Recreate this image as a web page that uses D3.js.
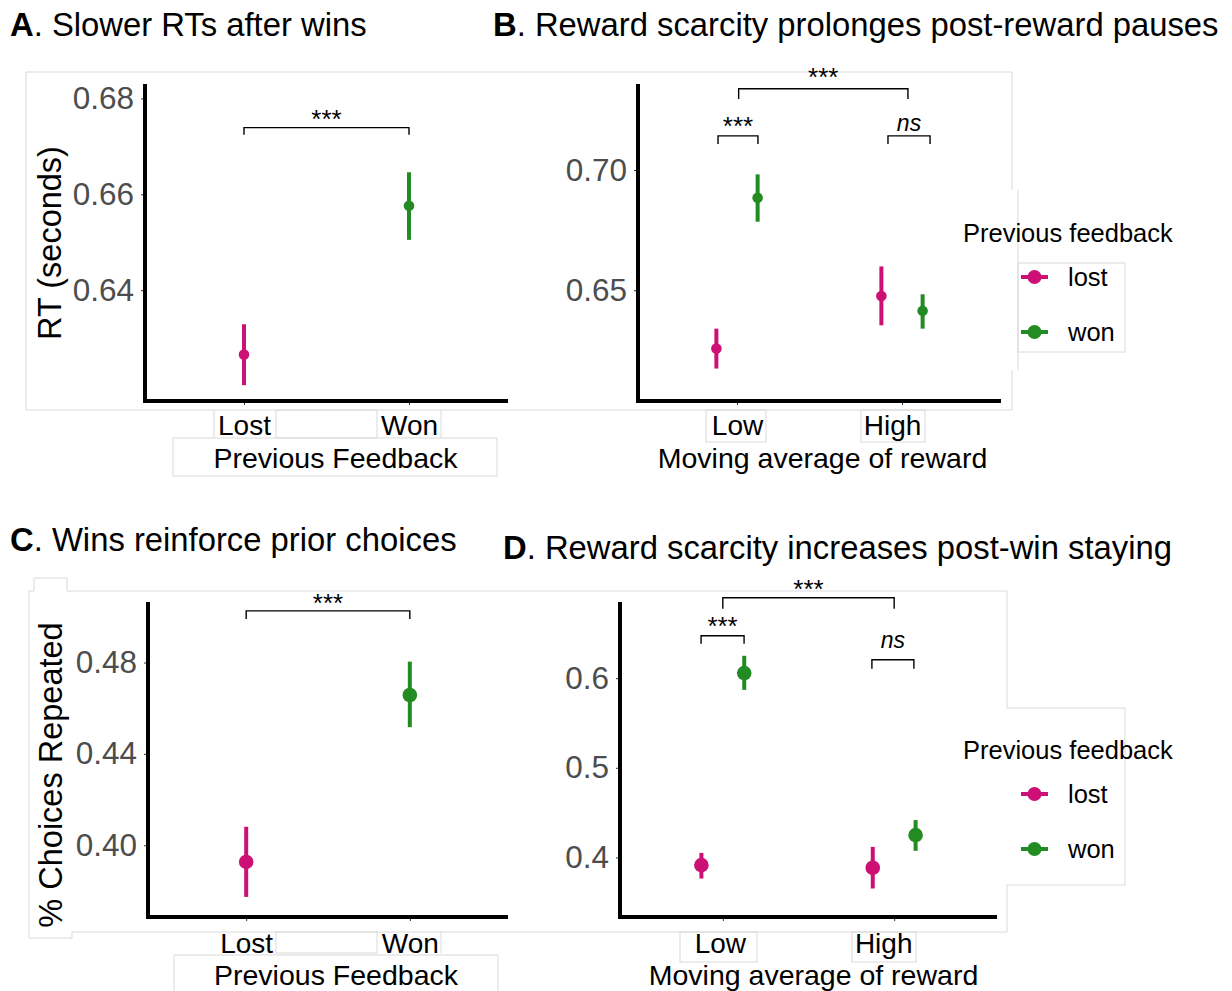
<!DOCTYPE html>
<html>
<head>
<meta charset="utf-8">
<script src="https://d3js.org/d3.v7.min.js"></script>
<style>
  body { margin: 0; background: #fff; }
  svg { font-family: "Liberation Sans", Arial, Helvetica, sans-serif; }
</style>
</head>
<body>
<svg id="vis" width="1232" height="991"></svg>
<script>
// ---- data ----
var feedbackLevels = ["lost", "won"];
var feedbackCats = ["Lost", "Won"];
var rewardLevels = ["Low", "High"];

// A. RT by previous feedback (lost, won)
var rtMean = [0.6266, 0.6576];
var rtLow = [0.6202, 0.6505];
var rtHigh = [0.6329, 0.6646];
var rtTicks = [0.64, 0.66, 0.68];

// B. RT by reward average (Low, High) x feedback
var rtLostMean = [0.6257, 0.6476];
var rtLostLow = [0.6174, 0.6354];
var rtLostHigh = [0.6340, 0.6599];
var rtWonMean = [0.6885, 0.6414];
var rtWonLow = [0.6785, 0.6340];
var rtWonHigh = [0.6982, 0.6483];
var rtRewardTicks = [0.65, 0.70];

// C. choices repeated by previous feedback (lost, won)
var stayMean = [0.3927, 0.4658];
var stayLow = [0.3774, 0.4517];
var stayHigh = [0.4081, 0.4804];
var stayTicks = [0.40, 0.44, 0.48];

// D. choices repeated by reward average (Low, High) x feedback
var stayLostMean = [0.3914, 0.3885];
var stayLostLow = [0.3765, 0.3654];
var stayLostHigh = [0.4051, 0.4118];
var stayWonMean = [0.6056, 0.4249];
var stayWonLow = [0.5869, 0.4074];
var stayWonHigh = [0.6249, 0.4417];
var stayRewardTicks = [0.4, 0.5, 0.6];

// significance brackets (category + offset in steps, heights in data units)
var bracketsA = [
  { a: "Lost", ao: 0, b: "Won", bo: 0, y: 0.6739, drop: 0.6724, label: "***", labelY: 0.6770 }
];
var bracketsB = [
  { a: "Low", ao: 0.01, b: "High", bo: 0.036, y: 0.7338, drop: 0.7296, label: "***", labelY: 0.7413 },
  { a: "Low", ao: -0.115, b: "Low", bo: 0.127, y: 0.7142, drop: 0.7108, label: "***", labelY: 0.7208 },
  { a: "High", ao: -0.085, b: "High", bo: 0.17, y: 0.7142, drop: 0.7108, label: "ns", labelY: 0.7188 }
];
var bracketsC = [
  { a: "Lost", ao: 0, b: "Won", bo: 0, y: 0.5026, drop: 0.4991, label: "***", labelY: 0.5088 }
];
var bracketsD = [
  { a: "Low", ao: 0, b: "High", bo: 0, y: 0.6897, drop: 0.6774, label: "***", labelY: 0.7065 },
  { a: "Low", ao: -0.127, b: "Low", bo: 0.124, y: 0.6473, drop: 0.6384, label: "***", labelY: 0.6653 },
  { a: "High", ao: -0.13, b: "High", bo: 0.115, y: 0.6205, drop: 0.6104, label: "ns", labelY: 0.6408 }
];

var colors = { lost: "#CD1076", won: "#228B22" };

// one point per feedback level, x = that feedback category
function simplePoints(mean, low, high) {
  return feedbackLevels.map(function(k, i) {
    return { key: k, cat: feedbackCats[i], dodge: 0, mean: mean[i], low: low[i], high: high[i] };
  });
}
// dodged points, x = reward level
function groupedPoints(lost, won) {
  var pts = [];
  rewardLevels.forEach(function(c, i) {
    pts.push({ key: "lost", cat: c, dodge: -0.125, mean: lost[0][i], low: lost[1][i], high: lost[2][i] });
    pts.push({ key: "won", cat: c, dodge: 0.125, mean: won[0][i], low: won[1][i], high: won[2][i] });
  });
  return pts;
}

var svg = d3.select("#vis");

// faint leftover panel borders from the composed figure
var faint = svg.append("g").attr("fill", "none").attr("stroke", "#dadada").attr("stroke-width", 1);
faint.append("path").attr("d", "M26,72H1012V190M1018,190V370M1012,370V410H26V72");
faint.append("rect").attr("x", 1018).attr("y", 263).attr("width", 107).attr("height", 89);
faint.append("rect").attr("x", 276).attr("y", 410).attr("width", 101).attr("height", 28);
faint.append("path").attr("d", "M214,410V438M441,410V438");
faint.append("rect").attr("x", 173).attr("y", 438).attr("width", 324).attr("height", 38);
faint.append("rect").attr("x", 706).attr("y", 410).attr("width", 60).attr("height", 32);
faint.append("rect").attr("x", 861).attr("y", 410).attr("width", 64).attr("height", 32);
faint.append("path").attr("d", "M29,938V591H34V578H67V591H1007V708H1125V885H1007V932H72V938Z");
faint.append("rect").attr("x", 276).attr("y", 932).attr("width", 101).attr("height", 21);
faint.append("path").attr("d", "M441,932V953");
faint.append("rect").attr("x", 174).attr("y", 955).attr("width", 324).attr("height", 40);
faint.append("rect").attr("x", 680).attr("y", 932).attr("width", 77).attr("height", 30);
faint.append("rect").attr("x", 852).attr("y", 932).attr("width", 64).attr("height", 30);

// titles
function title(x, y, letter, rest) {
  var t = svg.append("text").attr("x", x).attr("y", y).attr("font-size", 32.8).attr("fill", "#000");
  t.append("tspan").attr("font-weight", "bold").text(letter);
  t.append("tspan").text(". " + rest);
}
title(10, 36, "A", "Slower RTs after wins");
title(493, 36, "B", "Reward scarcity prolonges post-reward pauses");
title(10, 551, "C", "Wins reinforce prior choices");
title(503, 559, "D", "Reward scarcity increases post-win staying");

function drawPanel(p) {
  var g = svg.append("g");
  var x = d3.scalePoint().domain(p.cats).range([p.x0, p.x1]).padding(0.6);
  var y = d3.scaleLinear().domain(p.domain).range([p.yBot, p.yTop]);
  var step = x.step();

  // y axis ticks
  var ya = g.append("g").attr("transform", "translate(" + p.x0 + ",0)")
    .call(d3.axisLeft(y).tickValues(p.ticks).tickSize(4).tickPadding(7).tickFormat(d3.format(p.fmt)));
  ya.select(".domain").remove();
  ya.selectAll("line").attr("stroke", "#333");
  ya.selectAll("text").attr("font-size", 31.5).attr("fill", "#4d4d4d").attr("font-family", null);

  // x axis ticks
  var xa = g.append("g").attr("transform", "translate(0," + p.yBot + ")")
    .call(d3.axisBottom(x).tickSize(4).tickPadding(p.xPad));
  xa.select(".domain").remove();
  xa.selectAll("line").attr("stroke", "#333");
  xa.selectAll("text").attr("font-size", 28).attr("fill", "#000").attr("font-family", null)
    .attr("dx", function(d) { return d === "High" ? p.highShift : (d === "Low" ? p.lowShift : 0); });

  // axis lines
  g.append("line").attr("x1", p.x0).attr("x2", p.x0).attr("y1", p.yTop).attr("y2", p.yBot + 2)
    .attr("stroke", "#000").attr("stroke-width", 4);
  g.append("line").attr("x1", p.x0 - 2).attr("x2", p.x1).attr("y1", p.yBot).attr("y2", p.yBot)
    .attr("stroke", "#000").attr("stroke-width", 4);

  // axis titles
  g.append("text").attr("x", (p.x0 + p.x1) / 2 + p.titleShift).attr("y", p.xTitleY)
    .attr("text-anchor", "middle").attr("font-size", 28.5).text(p.xTitle);
  if (p.yTitle) {
    g.append("text").attr("transform", "translate(" + p.yTitleX + "," + p.yTitleCY + ") rotate(-90)")
      .attr("text-anchor", "middle").attr("font-size", 32.5).text(p.yTitle);
  }

  // error bars + points
  p.points.forEach(function(d) {
    var cx = x(d.cat) + d.dodge * step;
    g.append("line").attr("x1", cx).attr("x2", cx)
      .attr("y1", y(d.low)).attr("y2", y(d.high))
      .attr("stroke", colors[d.key]).attr("stroke-width", 4);
    g.append("circle").attr("cx", cx).attr("cy", y(d.mean)).attr("r", p.r)
      .attr("fill", colors[d.key]);
  });

  // brackets
  p.brackets.forEach(function(b) {
    var xa0 = x(b.a) + b.ao * step, xb0 = x(b.b) + b.bo * step;
    g.append("path")
      .attr("d", "M" + xa0 + "," + y(b.drop) + "V" + y(b.y) + "H" + xb0 + "V" + y(b.drop))
      .attr("fill", "none").attr("stroke", "#000").attr("stroke-width", 1.4);
    var star = b.label === "***";
    var fs = star ? 26 : 23;
    g.append("text").attr("x", (xa0 + xb0) / 2)
      .attr("y", y(b.labelY) + (star ? 0.58 * fs : 0.27 * fs))
      .attr("text-anchor", "middle").attr("font-size", fs)
      .attr("font-style", star ? "normal" : "italic").text(b.label);
  });

  // legend
  if (p.legend) {
    var lg = g.append("g");
    lg.append("text").attr("x", 963).attr("y", p.legend.titleY + 9).attr("font-size", 25.5).text("Previous feedback");
    feedbackLevels.forEach(function(k, i) {
      var ky = p.legend.keyY[i];
      lg.append("line").attr("x1", 1021).attr("x2", 1048).attr("y1", ky).attr("y2", ky)
        .attr("stroke", colors[k]).attr("stroke-width", 4);
      lg.append("circle").attr("cx", 1034.5).attr("cy", ky).attr("r", 7).attr("fill", colors[k]);
      lg.append("text").attr("x", 1068).attr("y", ky + 9).attr("font-size", 25.5).text(k);
    });
  }
}

drawPanel({
  cats: feedbackCats, x0: 145, x1: 508, yTop: 84, yBot: 401, domain: [0.6169, 0.683],
  ticks: rtTicks, fmt: ".2f", r: 5.3, xPad: 10, highShift: 0, lowShift: 0,
  xTitle: "Previous Feedback", xTitleY: 468, titleShift: 9,
  yTitle: "RT (seconds)", yTitleX: 61, yTitleCY: 243,
  points: simplePoints(rtMean, rtLow, rtHigh),
  brackets: bracketsA
});

drawPanel({
  cats: rewardLevels, x0: 638, x1: 1001, yTop: 84, yBot: 401, domain: [0.6039, 0.7358],
  ticks: rtRewardTicks, fmt: ".2f", r: 5.3, xPad: 10, highShift: -10, lowShift: 0,
  xTitle: "Moving average of reward", xTitleY: 468, titleShift: 3,
  points: groupedPoints([rtLostMean, rtLostLow, rtLostHigh], [rtWonMean, rtWonLow, rtWonHigh]),
  brackets: bracketsB,
  legend: { titleY: 233, keyY: [277, 332] }
});

drawPanel({
  cats: feedbackCats, x0: 148, x1: 508, yTop: 602, yBot: 917, domain: [0.3686, 0.5065],
  ticks: stayTicks, fmt: ".2f", r: 7.3, xPad: 12, highShift: 0, lowShift: 0,
  xTitle: "Previous Feedback", xTitleY: 985, titleShift: 8,
  yTitle: "% Choices Repeated", yTitleX: 62, yTitleCY: 775,
  points: simplePoints(stayMean, stayLow, stayHigh),
  brackets: bracketsC
});

drawPanel({
  cats: rewardLevels, x0: 620, x1: 997, yTop: 602, yBot: 917, domain: [0.3336, 0.6849],
  ticks: stayRewardTicks, fmt: ".1f", r: 7.3, xPad: 12, highShift: -11, lowShift: -3,
  xTitle: "Moving average of reward", xTitleY: 985, titleShift: 5,
  points: groupedPoints([stayLostMean, stayLostLow, stayLostHigh], [stayWonMean, stayWonLow, stayWonHigh]),
  brackets: bracketsD,
  legend: { titleY: 750, keyY: [794, 849] }
});
</script>
</body>
</html>
